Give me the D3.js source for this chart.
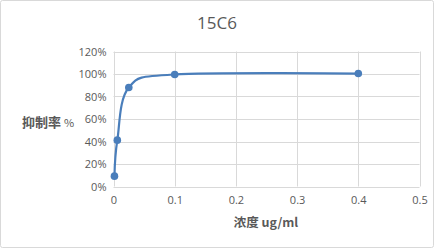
<!DOCTYPE html>
<html><head><meta charset="utf-8">
<script src="https://cdn.jsdelivr.net/npm/d3@7/dist/d3.min.js"></script>
<style>body{margin:0;background:#fff}svg{display:block}</style>
</head><body>
<svg id="c" width="434" height="248"></svg>
<script>
const concentrations = [0.0015625, 0.00625, 0.025, 0.1, 0.4];
const inhibition = [0.092, 0.412, 0.88, 0.996, 1.004];
const xTicks = [0, 0.1, 0.2, 0.3, 0.4, 0.5];
const yTicks = [0, 0.2, 0.4, 0.6, 0.8, 1.0, 1.2];
const title = "15C6";
const xTitle = "浓度 ug/ml";
const yTitleMain = "抑制率";
const yTitleUnit = "%";

const svg = d3.select("#c");
svg.append("rect").attr("x",0.5).attr("y",0.5).attr("width",433).attr("height",247)
  .attr("fill","#fff").attr("stroke","#d9d9d9").attr("rx",2);

const x = d3.scaleLinear().domain([0,0.5]).range([113.5,419.5]);
const y = d3.scaleLinear().domain([0,1.2]).range([186.5,51.5]);
const font = "'Noto Sans CJK SC', 'Noto Sans', sans-serif";
const col = "#595959";

const g = svg.append("g");
g.selectAll(".hg").data(yTicks).join("line")
  .attr("x1",x(0)).attr("x2",x(0.5)).attr("y1",d=>Math.round(y(d))+0.5).attr("y2",d=>Math.round(y(d))+0.5)
  .attr("stroke","#d9d9d9").attr("stroke-width",1);
g.selectAll(".vg").data(xTicks).join("line")
  .attr("y1",y(0)).attr("y2",y(1.2)).attr("x1",d=>Math.round(x(d))+0.5).attr("x2",d=>Math.round(x(d))+0.5)
  .attr("stroke","#d9d9d9").attr("stroke-width",1);

const yAxis = d3.axisLeft(y).tickValues(yTicks).tickFormat(d3.format(".0%")).tickSize(0).tickPadding(7);
const ya = svg.append("g").attr("transform",`translate(${x(0)},0)`).call(yAxis);
ya.select(".domain").remove();
ya.selectAll("text").attr("fill",col).style("font-family","'Open Sans', 'DejaVu Sans', sans-serif").style("font-size","11px");

const xAxis = d3.axisBottom(x).tickValues(xTicks).tickFormat(d=>d===0?"0":d3.format(".1f")(d)).tickSize(0).tickPadding(10);
const xa = svg.append("g").attr("transform",`translate(0,${y(0)})`).call(xAxis);
xa.select(".domain").remove();
xa.selectAll("text").attr("fill",col).style("font-family","'Open Sans', 'DejaVu Sans', sans-serif").style("font-size","11px");

const data = concentrations.map((c,i)=>({c, v: inhibition[i]}));
const line = d3.line().x(d=>x(d.c)).y(d=>y(d.v)).curve(d3.curveCardinal.tension(0));
svg.append("path").datum(data).attr("d",line).attr("fill","none")
  .attr("stroke","#4a7ebb").attr("stroke-width",2.2);
svg.selectAll(".pt").data(data).join("circle")
  .attr("cx",d=>x(d.c)).attr("cy",d=>y(d.v)).attr("r",3.8).attr("fill","#4a7ebb");

svg.append("text").attr("x",217).attr("y",29).attr("text-anchor","middle")
  .attr("fill",col).style("font-family","'Open Sans', 'Noto Sans', sans-serif").style("font-size","17px").text(title);

svg.append("text").attr("x",266).attr("y",227).attr("text-anchor","middle")
  .attr("fill",col).style("font-family",font).style("font-size","12.5px").style("font-weight","bold").text(xTitle);

const yt = svg.append("text").attr("x",22).attr("y",127).attr("fill",col).style("font-family",font);
yt.append("tspan").style("font-size","13px").style("font-weight","bold").text(yTitleMain);
yt.append("tspan").attr("dx",3).style("font-size","11px").text(yTitleUnit);
</script>
</body></html>
